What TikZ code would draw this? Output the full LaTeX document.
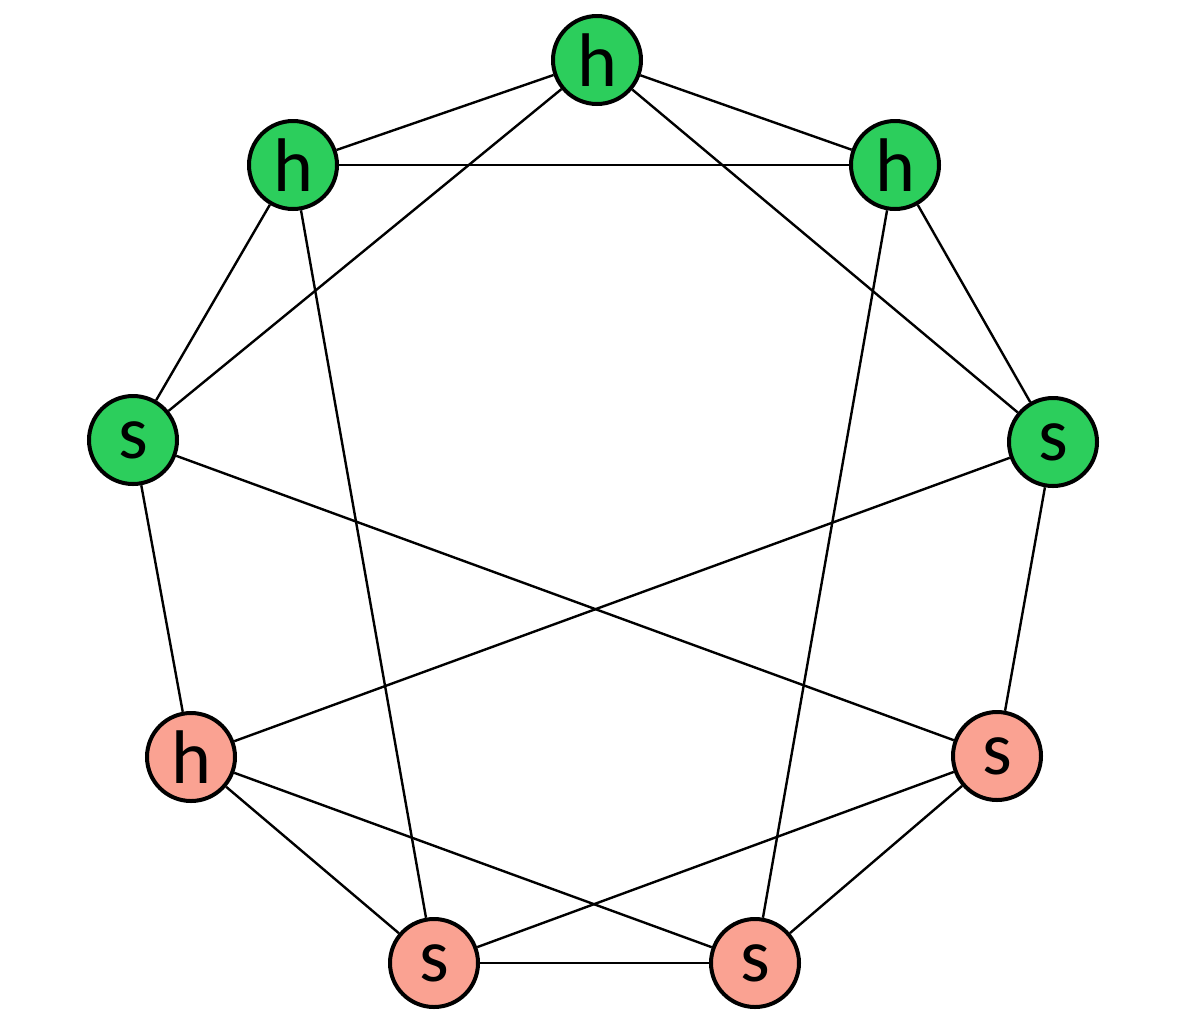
\documentclass[tikz,border=0pt]{standalone}
\usepackage{fontspec}
\setmainfont{Carlito}
\definecolor{vgreen}{RGB}{44,206,92}
\definecolor{vpink}{RGB}{250,162,146}
\begin{document}
\begin{tikzpicture}[x=1pt,y=-1pt,
  vtx/.style={circle,draw=black,line width=4pt,minimum size=88pt,inner sep=0pt,font=\fontsize{76}{76}\selectfont},
  gv/.style={vtx,fill=vgreen},
  pv/.style={vtx,fill=vpink},
  edge/.style={line width=2.4pt,black}]
\useasboundingbox (0,0) rectangle (1196,1029);
\node[gv] (A) at (597,60) {h};
\node[gv] (B) at (293,165) {h};
\node[gv] (C) at (895,165) {h};
\node[gv] (D) at (133,440) {s};
\node[gv] (E) at (1053,442) {s};
\node[pv] (F) at (191,757) {h};
\node[pv] (G) at (997,756) {s};
\node[pv] (H) at (434,963) {s};
\node[pv] (I) at (755,963) {s};
\foreach \a/\b in {A/B,A/C,A/D,A/E,B/C,B/D,B/H,C/E,C/I,D/F,D/G,E/G,E/F,F/H,F/I,G/H,G/I,H/I}
  \draw[edge] (\a) -- (\b);
\end{tikzpicture}
\end{document}
